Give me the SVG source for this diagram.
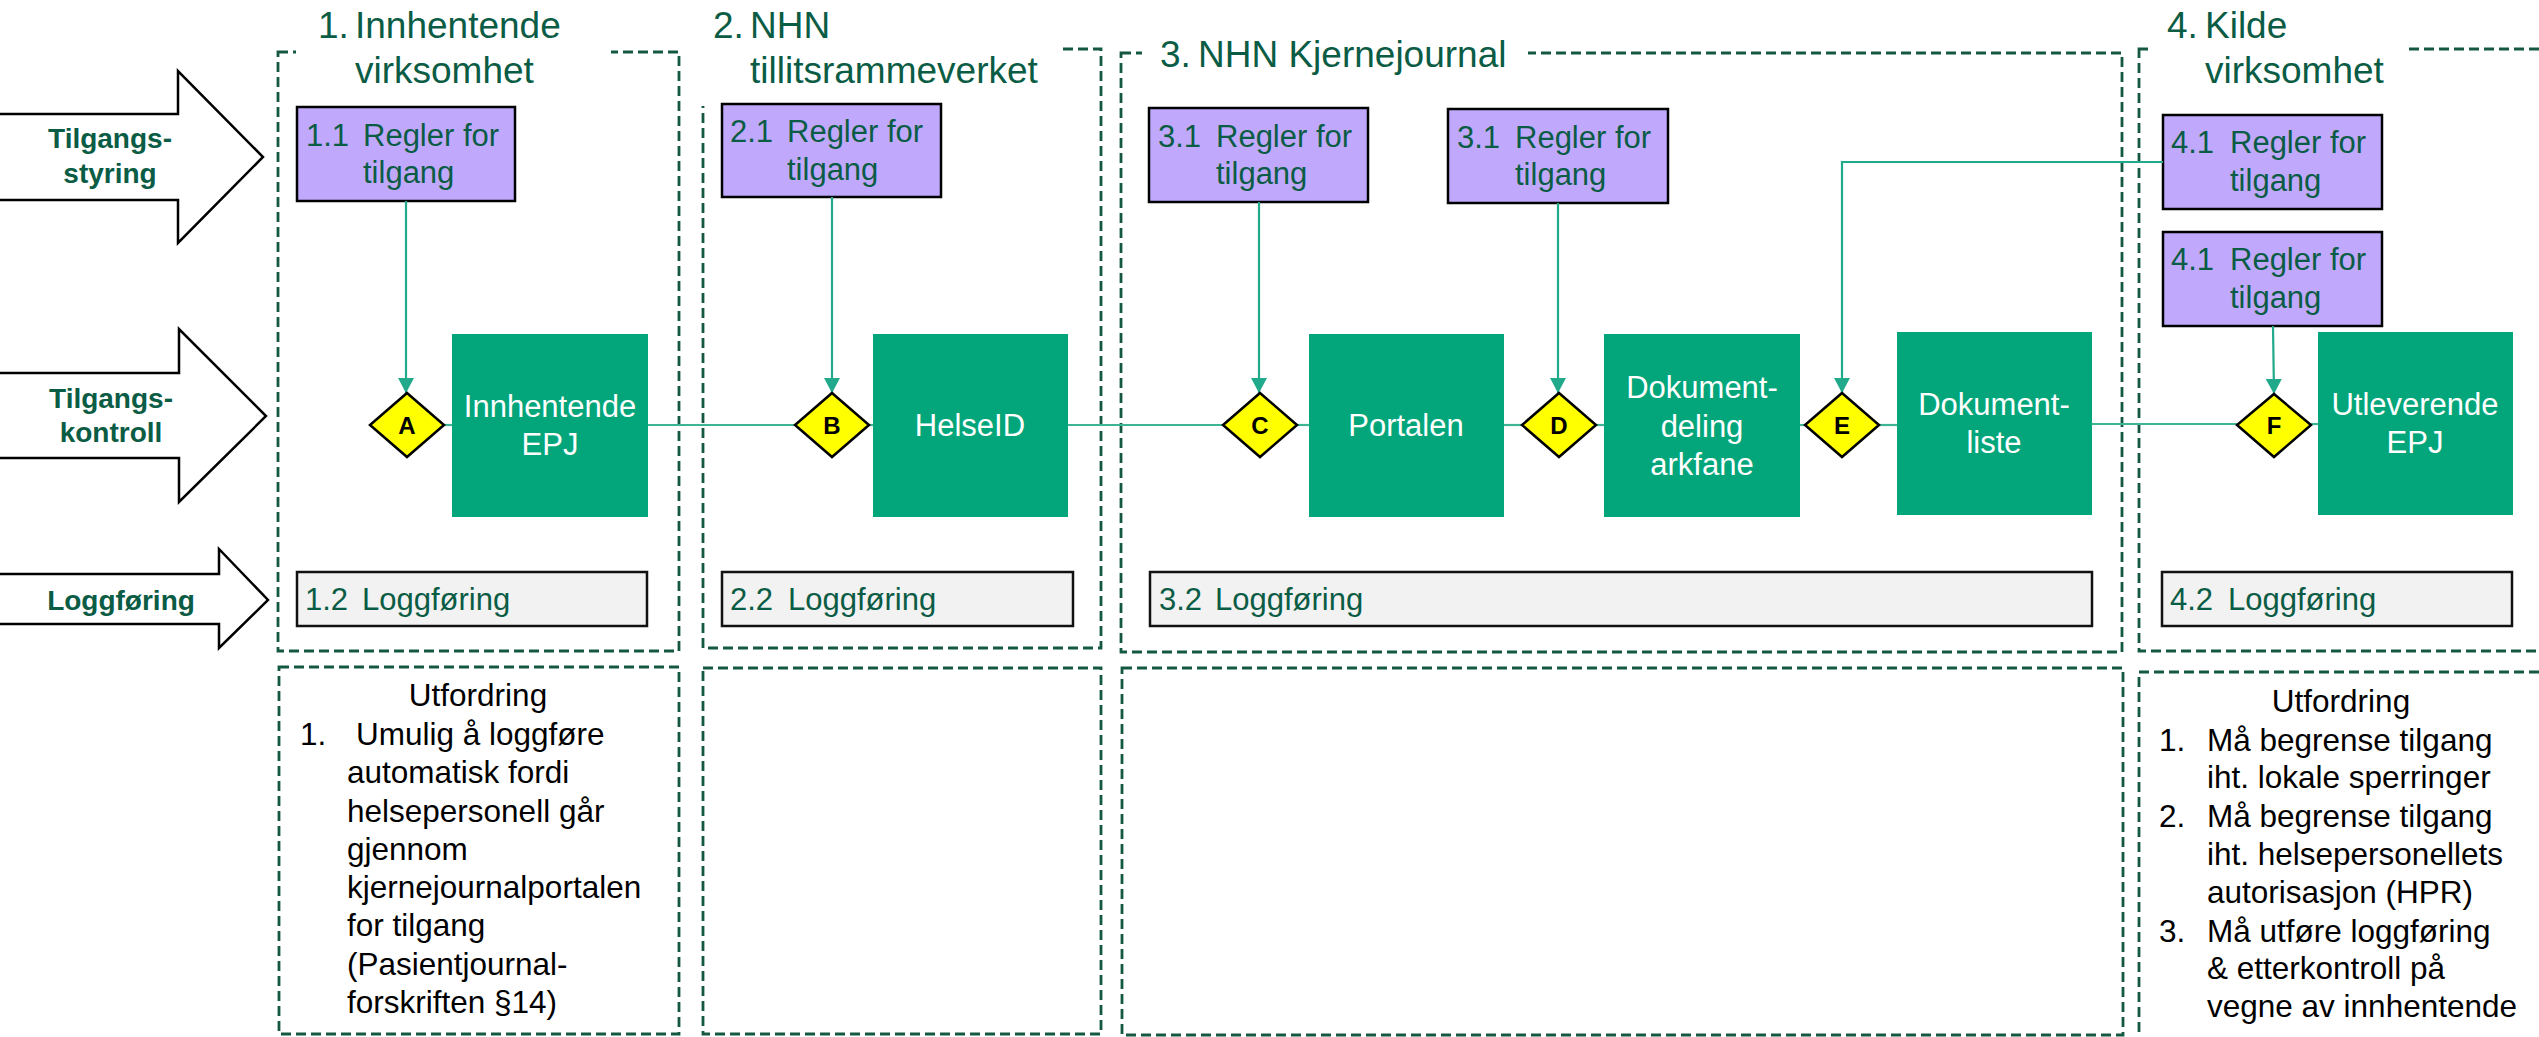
<svg xmlns="http://www.w3.org/2000/svg" width="2539" height="1037" viewBox="0 0 2539 1037">
<style>
text{font-family:"Liberation Sans",Arial,sans-serif}
.grp{fill:none;stroke:#145843;stroke-width:2.8;stroke-dasharray:10 5}
.bg{fill:#fff}
.title{font-size:37px;fill:#0b5c45}
.rule{fill:#c0a9fd;stroke:#000;stroke-width:2.5}
.rt{font-size:31px;fill:#0b5c45}
.log{fill:#f2f2f2;stroke:#111;stroke-width:2.5}
.proc{fill:#03a67b}
.pt{fill:#fff;font-size:31px;text-anchor:middle}
.dia{fill:#ffff00;stroke:#000;stroke-width:2.5}
.dt{font-weight:bold;font-size:24px;text-anchor:middle;fill:#000}
.big{fill:#fff;stroke:#000;stroke-width:2.5}
.al{font-weight:bold;font-size:28px;fill:#0b5c45;text-anchor:middle}
.ut{font-size:31.5px;fill:#000}
.c{stroke:#20a98a;stroke-width:2.2;fill:none}
.h{stroke:#3db595;stroke-width:2.2;fill:none}
</style>
<defs>
<marker id="ah" markerUnits="userSpaceOnUse" markerWidth="16" markerHeight="16" refX="15" refY="8" orient="auto">
<path d="M0,0 L15,8 L0,16 z" fill="#20a98a"/>
</marker>
</defs>

<g id="frames">
<rect class="grp" x="278" y="52" width="401" height="599"/>
<rect class="grp" x="703" y="49" width="398" height="599"/>
<rect class="grp" x="1121" y="53" width="1001" height="599"/>
<rect class="grp" x="2139" y="49" width="430" height="602"/>
<rect class="grp" x="279" y="667" width="400" height="367"/>
<rect class="grp" x="703" y="668" width="398" height="366"/>
<rect class="grp" x="1122" y="668" width="1001" height="367"/>
<rect class="grp" x="2139" y="672" width="430" height="380"/>
</g>

<g id="title1">
<rect class="bg" x="296" y="40" width="315" height="22"/>
<text class="title"><tspan x="318" y="38">1.</tspan><tspan x="355" y="38">Innhentende</tspan><tspan x="355" y="83">virksomhet</tspan></text>
</g>
<g id="title2">
<rect class="bg" x="698" y="40" width="362" height="66"/>
<text class="title"><tspan x="713" y="38">2.</tspan><tspan x="750" y="38">NHN</tspan><tspan x="750" y="83">tillitsrammeverket</tspan></text>
</g>
<g id="title3">
<rect class="bg" x="1142" y="44" width="386" height="20"/>
<text class="title"><tspan x="1160" y="67">3.</tspan><tspan x="1198" y="67">NHN Kjernejournal</tspan></text>
</g>
<g id="title4">
<rect class="bg" x="2148" y="40" width="258" height="20"/>
<text class="title"><tspan x="2167" y="38">4.</tspan><tspan x="2205" y="38">Kilde</tspan><tspan x="2205" y="83">virksomhet</tspan></text>
</g>

<g id="arrow-tilgangsstyring">
<polygon class="big" points="-3,114 178,114 178,71 263,157 178,243 178,200 -3,200"/>
<text class="al"><tspan x="110" y="148">Tilgangs-</tspan><tspan x="110" y="183">styring</tspan></text>
</g>
<g id="arrow-tilgangskontroll">
<polygon class="big" points="-3,373 179,373 179,329 266,416 179,502 179,458 -3,458"/>
<text class="al"><tspan x="111" y="408">Tilgangs-</tspan><tspan x="111" y="442">kontroll</tspan></text>
</g>
<g id="arrow-loggforing">
<polygon class="big" points="-3,574 219,574 219,549 268,600 219,648 219,624 -3,624"/>
<text class="al" x="121" y="610">Loggføring</text>
</g>

<g id="rule-1-1">
<rect class="rule" x="297" y="107" width="218" height="94"/>
<text class="rt"><tspan x="306" y="146">1.1</tspan><tspan x="363" y="146">Regler for</tspan><tspan x="363" y="183">tilgang</tspan></text>
</g>
<g id="rule-2-1">
<rect class="rule" x="722" y="104" width="219" height="93"/>
<text class="rt"><tspan x="730" y="142">2.1</tspan><tspan x="787" y="142">Regler for</tspan><tspan x="787" y="180">tilgang</tspan></text>
</g>
<g id="rule-3-1a">
<rect class="rule" x="1149" y="108" width="219" height="94"/>
<text class="rt"><tspan x="1158" y="147">3.1</tspan><tspan x="1216" y="147">Regler for</tspan><tspan x="1216" y="184">tilgang</tspan></text>
</g>
<g id="rule-3-1b">
<rect class="rule" x="1448" y="109" width="220" height="94"/>
<text class="rt"><tspan x="1457" y="148">3.1</tspan><tspan x="1515" y="148">Regler for</tspan><tspan x="1515" y="185">tilgang</tspan></text>
</g>
<g id="rule-4-1a">
<rect class="rule" x="2163" y="115" width="219" height="94"/>
<text class="rt"><tspan x="2171" y="153">4.1</tspan><tspan x="2230" y="153">Regler for</tspan><tspan x="2230" y="191">tilgang</tspan></text>
</g>
<g id="rule-4-1b">
<rect class="rule" x="2163" y="232" width="219" height="94"/>
<text class="rt"><tspan x="2171" y="270">4.1</tspan><tspan x="2230" y="270">Regler for</tspan><tspan x="2230" y="308">tilgang</tspan></text>
</g>

<g id="proc-innhentende-epj">
<rect class="proc" x="452" y="334" width="196" height="183"/>
<text class="pt"><tspan x="550" y="417">Innhentende</tspan><tspan x="550" y="455">EPJ</tspan></text>
</g>
<g id="proc-helseid">
<rect class="proc" x="873" y="334" width="195" height="183"/>
<text class="pt" x="970" y="436">HelseID</text>
</g>
<g id="proc-portalen">
<rect class="proc" x="1309" y="334" width="195" height="183"/>
<text class="pt" x="1406" y="436">Portalen</text>
</g>
<g id="proc-dokumentdeling">
<rect class="proc" x="1604" y="334" width="196" height="183"/>
<text class="pt"><tspan x="1702" y="398">Dokument-</tspan><tspan x="1702" y="437">deling</tspan><tspan x="1702" y="475">arkfane</tspan></text>
</g>
<g id="proc-dokumentliste">
<rect class="proc" x="1897" y="332" width="195" height="183"/>
<text class="pt"><tspan x="1994" y="415">Dokument-</tspan><tspan x="1994" y="453">liste</tspan></text>
</g>
<g id="proc-utleverende-epj">
<rect class="proc" x="2318" y="332" width="195" height="183"/>
<text class="pt"><tspan x="2415" y="415">Utleverende</tspan><tspan x="2415" y="453">EPJ</tspan></text>
</g>

<g id="connectors">
<line class="h" x1="444" y1="425" x2="452" y2="425"/>
<line class="h" x1="648" y1="425" x2="795" y2="425"/>
<line class="h" x1="869" y1="425" x2="873" y2="425"/>
<line class="h" x1="1068" y1="425" x2="1223" y2="425"/>
<line class="h" x1="1297" y1="425" x2="1309" y2="425"/>
<line class="h" x1="1504" y1="425" x2="1522" y2="425"/>
<line class="h" x1="1596" y1="425" x2="1604" y2="425"/>
<line class="h" x1="1800" y1="425" x2="1805" y2="425"/>
<line class="h" x1="1879" y1="425" x2="1897" y2="425"/>
<line class="h" x1="2092" y1="424" x2="2237" y2="424"/>
<line class="h" x1="2311" y1="424" x2="2318" y2="424"/>
<line class="c" x1="406" y1="201" x2="406" y2="393" marker-end="url(#ah)"/>
<line class="c" x1="832" y1="197" x2="832" y2="393" marker-end="url(#ah)"/>
<line class="c" x1="1259" y1="202" x2="1259" y2="393" marker-end="url(#ah)"/>
<line class="c" x1="1558" y1="203" x2="1558" y2="393" marker-end="url(#ah)"/>
<path class="c" d="M2163,162 H1842 V393" stroke-width="3" marker-end="url(#ah)"/>
<line class="c" x1="2273" y1="326" x2="2274" y2="394" marker-end="url(#ah)"/>
</g>

<g id="diamond-a"><polygon class="dia" points="407,393 444,425 407,457 370,425"/><text class="dt" x="407" y="434">A</text></g>
<g id="diamond-b"><polygon class="dia" points="832,393 869,425 832,457 795,425"/><text class="dt" x="832" y="434">B</text></g>
<g id="diamond-c"><polygon class="dia" points="1260,393 1297,425 1260,457 1223,425"/><text class="dt" x="1260" y="434">C</text></g>
<g id="diamond-d"><polygon class="dia" points="1559,393 1596,425 1559,457 1522,425"/><text class="dt" x="1559" y="434">D</text></g>
<g id="diamond-e"><polygon class="dia" points="1842,393 1879,425 1842,457 1805,425"/><text class="dt" x="1842" y="434">E</text></g>
<g id="diamond-f"><polygon class="dia" points="2274,394 2311,425 2274,457 2237,425"/><text class="dt" x="2274" y="434">F</text></g>

<g id="log-1-2">
<rect class="log" x="297" y="572" width="350" height="54"/>
<text class="rt"><tspan x="305" y="610">1.2</tspan><tspan x="362" y="610">Loggføring</tspan></text>
</g>
<g id="log-2-2">
<rect class="log" x="722" y="572" width="351" height="54"/>
<text class="rt"><tspan x="730" y="610">2.2</tspan><tspan x="788" y="610">Loggføring</tspan></text>
</g>
<g id="log-3-2">
<rect class="log" x="1150" y="572" width="942" height="54"/>
<text class="rt"><tspan x="1159" y="610">3.2</tspan><tspan x="1215" y="610">Loggføring</tspan></text>
</g>
<g id="log-4-2">
<rect class="log" x="2162" y="572" width="350" height="54"/>
<text class="rt"><tspan x="2170" y="610">4.2</tspan><tspan x="2228" y="610">Loggføring</tspan></text>
</g>

<g id="utfordring-1">
<text class="ut" x="478" y="706" text-anchor="middle">Utfordring</text>
<text class="ut"><tspan x="300" y="745">1.</tspan><tspan x="356" y="745">Umulig å loggføre</tspan><tspan x="347" y="783">automatisk fordi</tspan><tspan x="347" y="822">helsepersonell går</tspan><tspan x="347" y="860">gjennom</tspan><tspan x="347" y="898">kjernejournalportalen</tspan><tspan x="347" y="936">for tilgang</tspan><tspan x="347" y="975">(Pasientjournal-</tspan><tspan x="347" y="1013">forskriften §14)</tspan></text>
</g>
<g id="utfordring-4">
<text class="ut" x="2341" y="712" text-anchor="middle">Utfordring</text>
<text class="ut"><tspan x="2159" y="751">1.</tspan><tspan x="2207" y="751">Må begrense tilgang</tspan><tspan x="2207" y="788">iht. lokale sperringer</tspan><tspan x="2159" y="827">2.</tspan><tspan x="2207" y="827">Må begrense tilgang</tspan><tspan x="2207" y="865">iht. helsepersonellets</tspan><tspan x="2207" y="903">autorisasjon (HPR)</tspan><tspan x="2159" y="942">3.</tspan><tspan x="2207" y="942">Må utføre loggføring</tspan><tspan x="2207" y="979">&amp; etterkontroll på</tspan><tspan x="2207" y="1017">vegne av innhentende</tspan></text>
</g>
</svg>
